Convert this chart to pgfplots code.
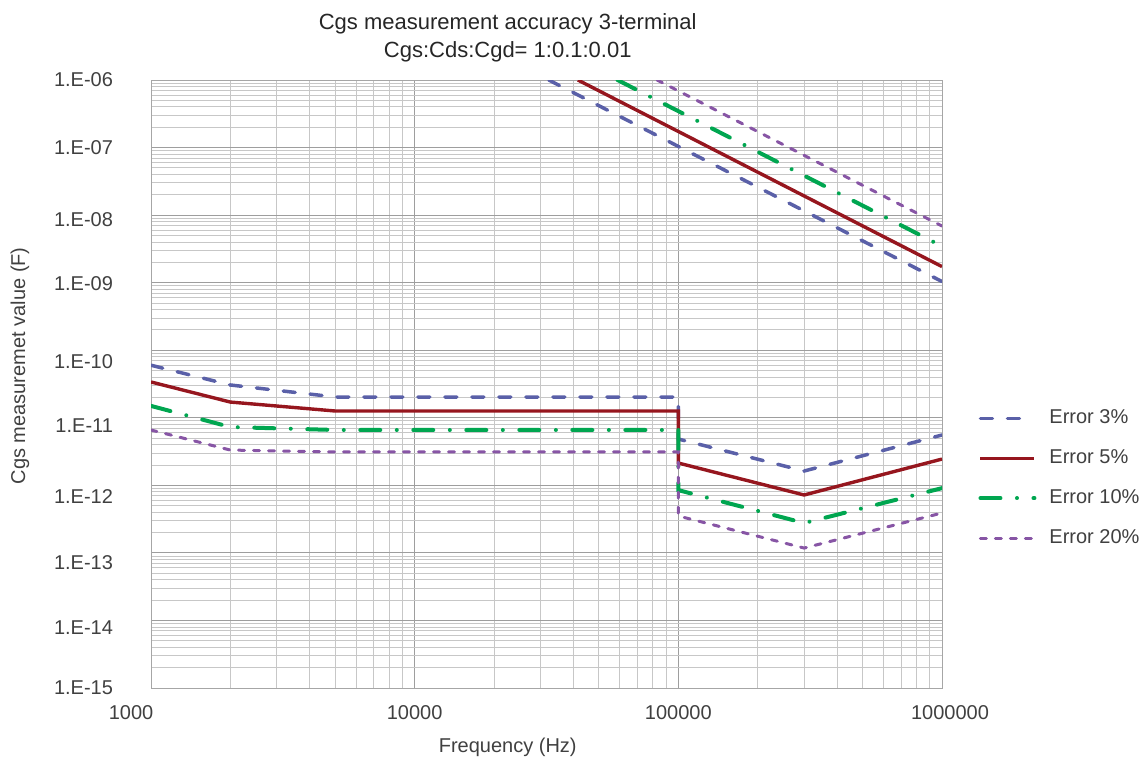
\documentclass[border=0pt]{standalone}
\usepackage{pgfplots}
\pgfplotsset{compat=1.18}
\usepackage{fontspec}
\setmainfont{Liberation Sans}
\definecolor{cblue}{RGB}{90,96,168}
\definecolor{cred}{RGB}{150,22,30}
\definecolor{cgreen}{RGB}{0,166,80}
\definecolor{cpurple}{RGB}{135,85,165}
\definecolor{txt}{RGB}{64,64,64}
\begin{document}
\begin{tikzpicture}
\begin{axis}[
  name=ax,
  scale only axis, width=395.5pt, height=304pt,
  xmode=log, ymode=log,
  xmin=1000, xmax=1000000, ymin=1e-15, ymax=1e-6,
  xtick={1000,10000,100000,1000000},
  xticklabels={{1000\hspace*{20pt}},10000,100000,{\hspace*{8pt}1000000}},
  minor xtick={2000,3000,4000,5000,6000,7000,8000,9000,20000,30000,40000,50000,60000,70000,80000,90000,200000,300000,400000,500000,600000,700000,800000,900000},
  ytick={1e-15,1e-14,1e-13,1e-12,1e-11,1e-10,1e-9,1e-8,1e-7,1e-6},
  yticklabels={,,,,,,,,,},
  minor ytick={2e-15,3e-15,4e-15,5e-15,6e-15,7e-15,8e-15,9e-15,
               2e-14,3e-14,4e-14,5e-14,6e-14,7e-14,8e-14,9e-14,
               2e-13,3e-13,4e-13,5e-13,6e-13,7e-13,8e-13,9e-13,
               2e-12,3e-12,4e-12,5e-12,6e-12,7e-12,8e-12,9e-12,
               2e-11,3e-11,4e-11,5e-11,6e-11,7e-11,8e-11,9e-11,
               2e-10,3e-10,4e-10,5e-10,6e-10,7e-10,8e-10,9e-10,
               2e-9,3e-9,4e-9,5e-9,6e-9,7e-9,8e-9,9e-9,
               2e-8,3e-8,4e-8,5e-8,6e-8,7e-8,8e-8,9e-8,
               2e-7,3e-7,4e-7,5e-7,6e-7,7e-7,8e-7,9e-7},
  extra y ticks={1e-6,1e-7,8.71e-9,9.55e-10,6.76e-11,7.76e-12,6.92e-13,7.08e-14,7.76e-15,1e-15},
  extra y tick labels={1.E-06,1.E-07,1.E-08,1.E-09,1.E-10,1.E-11,1.E-12,1.E-13,1.E-14,1.E-15},
  extra y tick style={grid=none, major tick length=0pt},
  grid=both,
  major grid style={color=black!38, line width=0.5pt},
  minor grid style={color=black!22, line width=0.5pt},
  major tick length=0pt, minor tick length=0pt,
  axis line style={black!35},
  tick label style={font=\fontsize{10}{12}\selectfont, text=txt},
  yticklabel style={xshift=-15.5pt},
  xticklabel style={yshift=-5pt},
  /pgf/number format/assume math mode=true,
  title={Cgs measurement accuracy 3-terminal\\Cgs:Cds:Cgd= 1:0.1:0.01},
  title style={align=center, font=\fontsize{11}{14}\selectfont, text=black!85,
    at={(axis description cs:0.451,1)}, anchor=center, yshift=15.25pt},
  xlabel={Frequency (Hz)},
  xlabel style={font=\fontsize{10}{12}\selectfont, text=txt,
    at={(axis description cs:0.451,0)}, anchor=center, yshift=-29.5pt},
  ylabel={Cgs measuremet value (F)},
  ylabel style={font=\fontsize{10}{12}\selectfont, text=txt,
    at={(axis description cs:-0.1656,0.53)}, anchor=center},
  legend style={draw=none, fill=none, font=\fontsize{10}{12}\selectfont, text=txt,
    at={(axis description cs:1.038,0.345)}, anchor=west, row sep=7.5pt,
    cells={anchor=west}},
  legend image code/.code={\draw[#1] (0pt,0pt) -- (27pt,0pt); \path (31.5pt,0pt);},
]
% Error 3%
\addplot[cblue, line width=1.75pt, line cap=round, dash pattern=on 6pt off 7.5pt]
  coordinates {(1000,6.0e-11) (2000,3.06e-11) (5000,2.03e-11) (100000,2.03e-11)
               (100000,4.85e-12) (300000,1.63e-12) (1000000,5.56e-12)};
\addlegendentry{Error 3\%}
% Error 5%
\addplot[cred, line width=1.7pt]
  coordinates {(1000,3.39e-11) (2000,1.71e-11) (5000,1.26e-11) (100000,1.26e-11)
               (100000,2.14e-12) (300000,7.2e-13) (1000000,2.45e-12)};
\addlegendentry{Error 5\%}
% Error 10%
\addplot[cgreen, line width=2pt, line cap=round, dash pattern=on 10pt off 8.25pt on 0.01pt off 8.25pt]
  coordinates {(1000,1.5e-11) (2000,7.3e-12) (5000,6.6e-12) (100000,6.6e-12)
               (100000,8.5e-13) (300000,2.77e-13) (1000000,9.1e-13)};
\addlegendentry{Error 10\%}
% Error 20%
\addplot[cpurple, line width=1.5pt, line cap=round, dash pattern=on 3pt off 4.5pt]
  coordinates {(1000,6.6e-12) (2000,3.33e-12) (5000,3.12e-12) (100000,3.12e-12)
               (100000,3.52e-13) (300000,1.18e-13) (1000000,3.9e-13)};
\addlegendentry{Error 20\%}
% upper limits
\addplot[forget plot, cblue, line width=1.75pt, line cap=round, dash pattern=on 6pt off 7.5pt]
  coordinates {(32250,1e-6) (1000000,1.04e-9)};
\addplot[forget plot, cred, line width=1.7pt]
  coordinates {(41590,1e-6) (1000000,1.73e-9)};
\addplot[forget plot, cgreen, line width=2pt, line cap=round, dash pattern=on 10pt off 8.25pt on 0.01pt off 8.25pt]
  coordinates {(58820,1e-6) (1000000,3.46e-9)};
\addplot[forget plot, cpurple, line width=1.5pt, line cap=round, dash pattern=on 3pt off 4.5pt]
  coordinates {(83070,1e-6) (1000000,6.9e-9)};
\end{axis}
\pgfresetboundingbox
\path[use as bounding box] ([shift={(-75.5pt,-37pt)}]ax.south west) rectangle ([shift={(497pt,344pt)}]ax.south west);
\end{tikzpicture}
\end{document}
